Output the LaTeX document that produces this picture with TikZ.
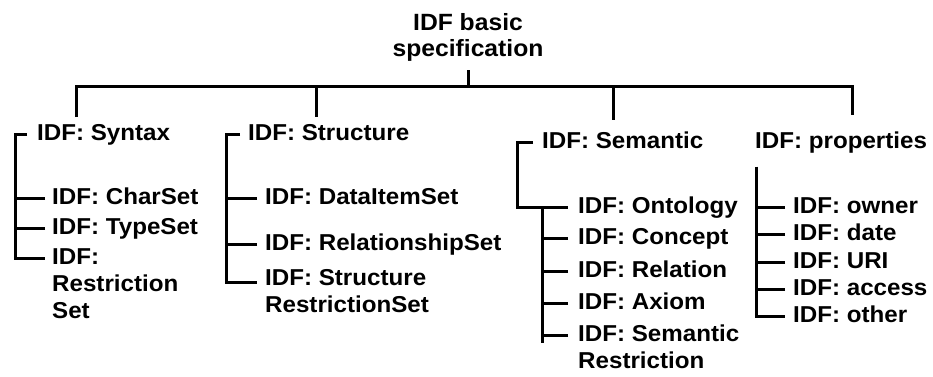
\documentclass[tikz,border=0pt]{standalone}
\usepackage{fontspec}
\setmainfont{Liberation Sans}[FakeStretch=1.05]
\usetikzlibrary{calc}

% label fonts: text lines 27pt apart, title lines 26pt apart
\newcommand\lblsize{\fontsize{23}{27}\selectfont}
\newcommand\ttlsize{\fontsize{23.5}{26}\selectfont}

\tikzset{
  conn/.style={line width=3pt, line cap=butt, line join=miter},
  % node placed by the baseline of its first line
  lbl/.style={font=\bfseries\lblsize, inner sep=0pt, anchor=north west,
              align=left, yshift=18.9pt},
  ttl/.style={font=\bfseries\ttlsize, inner sep=0pt, anchor=north,
              align=center, yshift=18.2pt},
}

\begin{document}
\begin{tikzpicture}[x=1pt, y=-1pt]
  \fill[white] (0,0) rectangle (933,376);
  \useasboundingbox (0,0) rectangle (933,376);

  % root
  \node[ttl] (root) at (468,30) {\strut IDF basic\\specification};

  % group headers
  \node[lbl] (syn)   at (37,140)  {\strut IDF: Syntax};
  \node[lbl] (str)   at (248,140) {\strut IDF: Structure};
  \node[lbl] (sem)   at (542,148) {\strut IDF: Semantic};
  \node[lbl] (props) at (755,148) {\strut IDF: properties};

  % syntax children
  \node[lbl] (charset) at (52,204) {\strut IDF: CharSet};
  \node[lbl] (typeset) at (52,234) {\strut IDF: TypeSet};
  \node[lbl] (synres)  at (52,264) {\strut IDF:\\Restriction\\Set};

  % structure children
  \node[lbl] (dataitem) at (265,204) {\strut IDF: DataItemSet};
  \node[lbl] (relset)   at (265,250) {\strut IDF: RelationshipSet};
  \node[lbl] (strres)   at (265,285) {\strut IDF: Structure\\RestrictionSet};

  % semantic children
  \node[lbl] (onto)   at (578,213) {\strut IDF: Ontology};
  \node[lbl] (concept) at (578,244) {\strut IDF: Concept};
  \node[lbl] (rel)    at (578,277) {\strut IDF: Relation};
  \node[lbl] (axiom)  at (578,309) {\strut IDF: Axiom};
  \node[lbl] (semres) at (578,341) {\strut IDF: Semantic\\Restriction};

  % property children
  \node[lbl] (owner)  at (793,213) {\strut IDF: owner};
  \node[lbl] (date)   at (793,240) {\strut IDF: date};
  \node[lbl] (uri)    at (793,268) {\strut IDF: URI};
  \node[lbl] (access) at (793,295) {\strut IDF: access};
  \node[lbl] (other)  at (793,322) {\strut IDF: other};

  % bus from the root to the four groups
  \coordinate (dSyn)  at (76,117);
  \coordinate (dStr)  at (316,117);
  \coordinate (dSem)  at (613,120);
  \coordinate (dProp) at (852,115);
  \coordinate (bus)   at (468,86);
  \draw[conn] ($(root.south)+(0,9)$) -- (root.south |- bus);
  \draw[conn] (dSyn) -- (dSyn |- bus) -- (dProp |- bus) -- (dProp);
  \draw[conn] (dStr |- bus) -- (dStr);
  \draw[conn] (dSem |- bus) -- (dSem);

  % syntax bracket
  \draw[conn] ($(syn.north west)+(-10,13)$) -| ($(synres.north west)+(-37,13)$)
              -- ($(synres.north west)+(-7,13)$);
  \foreach \n in {charset, typeset}
    \draw[conn] ($(\n.north west)+(-7,13)$) -- +(-30,0);

  % structure bracket
  \draw[conn] ($(str.north west)+(-8,13)$) -| ($(strres.north west)+(-39,16)$)
              -- ($(strres.north west)+(-8,16)$);
  \foreach \n in {dataitem, relset}
    \draw[conn] ($(\n.north west)+(-8,13)$) -- +(-31,0);

  % semantic bracket
  \draw[conn] ($(sem.north west)+(-9,13)$) -| ($(onto.north west)+(-61,13)$)
              -- ($(onto.north west)+(-10,13)$);
  \draw[conn] ($(onto.north west)+(-36,13)$) -- ($(semres.north west)+(-36,21)$);
  \foreach \n in {concept, rel, axiom, semres}
    \draw[conn] ($(\n.north west)+(-10,13)$) -- +(-26,0);

  % properties bracket
  \draw[conn] ($(props.south west)+(1,10)$) |- ($(other.north west)+(-8,13)$);
  \foreach \n in {owner, date, uri, access}
    \draw[conn] ($(\n.north west)+(-8,13)$) -- +(-29,0);
\end{tikzpicture}
\end{document}
